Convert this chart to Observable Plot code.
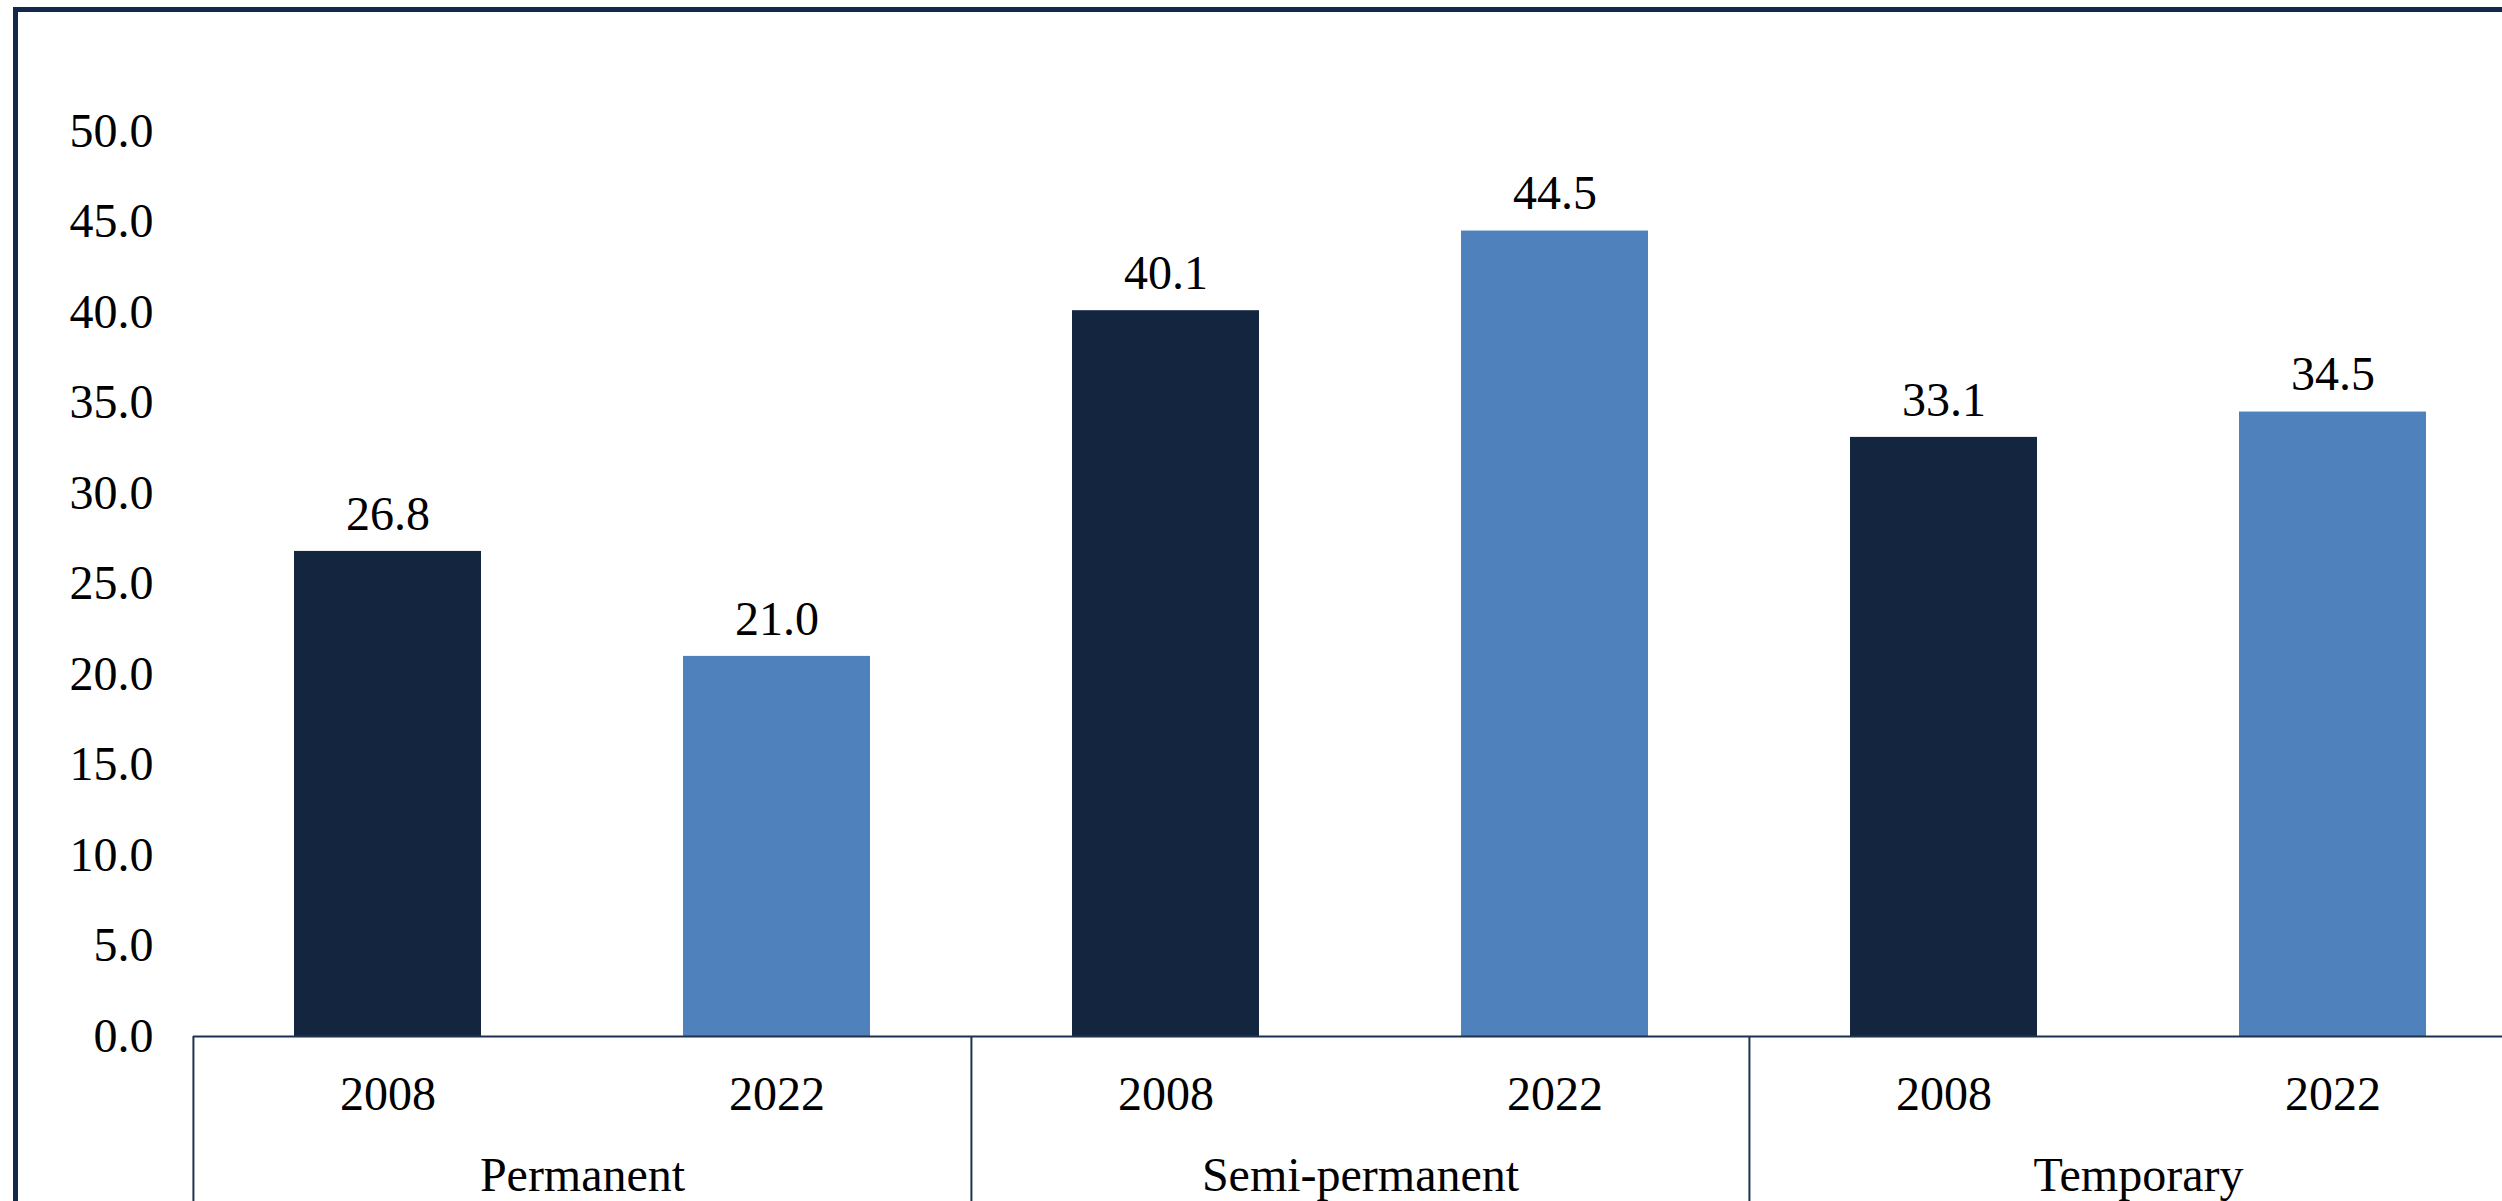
<!DOCTYPE html>
<html><head><meta charset="utf-8">
<script src="https://cdn.jsdelivr.net/npm/d3@7"></script>
<script src="https://cdn.jsdelivr.net/npm/@observablehq/plot@0.6"></script>
<style>
html,body{margin:0;padding:0;background:#fff;overflow:hidden;width:2502px;height:1201px;}
#chart{position:absolute;left:0;top:0;}
#chart svg, #chart text, #chart g{font-family:'Liberation Serif','Times New Roman',serif !important;}
#frame{position:absolute;left:13px;top:7px;width:3000px;height:2000px;border:5px solid #13294b;box-sizing:border-box;pointer-events:none;}
</style></head><body>
<div id="chart"></div><div id="frame"></div>
<script>
const categories = ["Permanent", "Semi-permanent", "Temporary"];
const years = ["2008", "2022"];
const values2008 = [26.8, 40.1, 33.1];
const values2022 = [21.0, 44.5, 34.5];
const yTicks = [0, 5, 10, 15, 20, 25, 30, 35, 40, 45, 50];
const barColors = ["#14263f", "#4f81bd"];

const data = categories.flatMap((c, i) => [
  {cat: c, year: years[0], value: values2008[i]},
  {cat: c, year: years[1], value: values2022[i]}
]);

const W = 2560, H = 1260, mL = 192, mR = 33, mT = 131, mB = 224;
const facetWidth = (W - mL - mR) / categories.length;
const step = facetWidth / years.length;
const lineColor = "#1d3250";
const serif = "Liberation Serif";

const chart = Plot.plot({
  width: W, height: H,
  marginLeft: mL, marginRight: mR, marginTop: mT, marginBottom: mB,
  style: "max-width:none;background:transparent;overflow:visible;color:#000;",
  fx: {domain: categories, padding: 0, axis: null},
  x: {domain: years, paddingInner: 0.52, paddingOuter: 0.26},
  y: {domain: [0, 50]},
  color: {domain: years, range: barColors},
  marks: [
    Plot.barY(data, {fx: "cat", x: "year", y: "value", fill: "year"}),
    Plot.text(data, {fx: "cat", x: "year", y: "value", text: d => d.value.toFixed(1), dy: -37, fontSize: 48, fontFamily: serif, fill: "#000"}),
    Plot.ruleY([0], {stroke: lineColor, strokeWidth: 2}),
    Plot.ruleX(categories, {fx: d => d, x: () => years[0], y1: 0, y2: -15, dx: -step / 2, stroke: lineColor, strokeWidth: 2}),
    Plot.axisX({tickSize: 0, tickPadding: 39, fontSize: 48, fontFamily: serif, label: null}),
    Plot.axisY({ticks: yTicks, tickFormat: d3.format(".1f"), tickSize: 0, tickPadding: 40, fontSize: 48, fontFamily: serif, label: null}),
    Plot.text(categories, {fx: d => d, text: d => d, frameAnchor: "bottom", dy: 154, fontSize: 48, fontFamily: serif, fill: "#000"})
  ]
});
document.getElementById("chart").appendChild(chart);
</script>
</body></html>
